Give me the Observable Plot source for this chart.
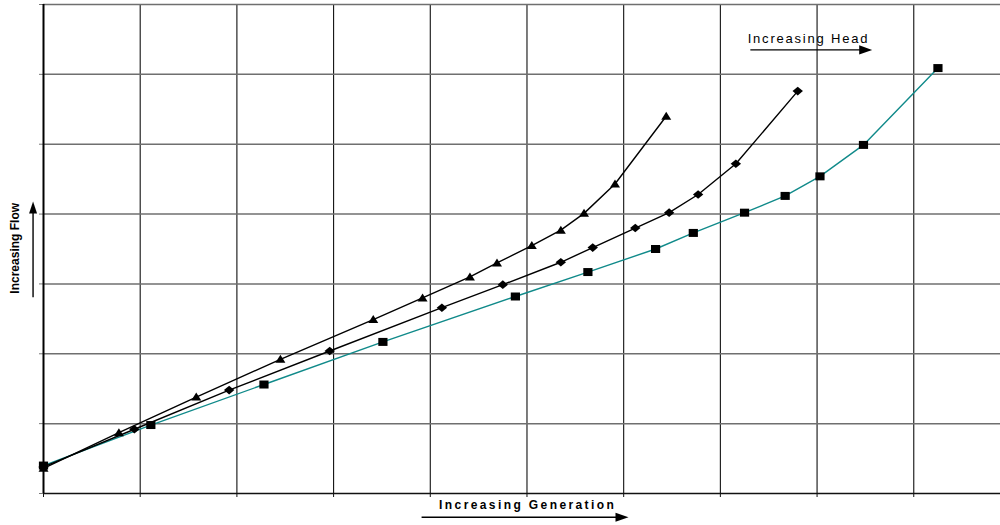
<!DOCTYPE html>
<html>
<head>
<meta charset="utf-8">
<script src="https://cdn.jsdelivr.net/npm/d3@7"></script>
<script src="https://cdn.jsdelivr.net/npm/@observablehq/plot@0.6"></script>
<style>
  html, body { margin: 0; padding: 0; background: #fff; }
  #chart svg { display: block; }
</style>
</head>
<body>
<div id="chart"></div>
<script>
// Three head curves: flow against generation (arbitrary units)
const lowHeadX  = [0, 0.78, 1.58, 2.45, 3.41, 3.92, 4.41, 4.69, 5.05, 5.35, 5.59, 5.91, 6.44];
const lowHeadY  = [0.36, 0.87, 1.38, 1.92, 2.49, 2.80, 3.10, 3.30, 3.55, 3.77, 4.01, 4.43, 5.40];
const midHeadX  = [0, 0.94, 1.92, 2.96, 4.12, 4.75, 5.35, 5.68, 6.12, 6.47, 6.77, 7.16, 7.80];
const midHeadY  = [0.38, 0.92, 1.48, 2.04, 2.66, 2.99, 3.31, 3.52, 3.80, 4.02, 4.28, 4.72, 5.76];
const highHeadX = [0, 1.11, 2.28, 3.51, 4.88, 5.63, 6.33, 6.72, 7.25, 7.67, 8.03, 8.48, 9.25];
const highHeadY = [0.40, 0.98, 1.56, 2.17, 2.82, 3.17, 3.50, 3.73, 4.02, 4.26, 4.54, 4.99, 6.09];

// Grid positions
const xTicks = [0, 1, 2, 3, 4, 5, 6, 7, 8, 9];
const yTicks = [0, 1, 2, 3, 4, 5, 6, 7];

// Annotation texts
const xLabel = "Increasing Generation";
const yLabel = "Increasing Flow";
const headLabel = "Increasing Head";

const rows = (xs, ys) => xs.map((x, i) => ({x, y: ys[i]}));
const lowHead = rows(lowHeadX, lowHeadY);
const midHead = rows(midHeadX, midHeadY);
const highHead = rows(highHeadX, highHeadY);

// Marker shapes
const triangleMark = {draw(c) { c.moveTo(0, -4.5); c.lineTo(5, 3.5); c.lineTo(-5, 3.5); c.closePath(); }};
const diamondMark  = {draw(c) { c.moveTo(0, -4.3); c.lineTo(5.2, 0); c.lineTo(0, 4.3); c.lineTo(-5.2, 0); c.closePath(); }};
const squareMark   = {draw(c) { c.rect(-4.6, -4, 9.2, 8); }};
// Arrowheads with the tip at the anchor point
const headRight = {draw(c) { c.moveTo(0, 0); c.lineTo(-13, -4.6); c.lineTo(-13, 4.6); c.closePath(); }};
const headUp    = {draw(c) { c.moveTo(0, 0); c.lineTo(4, 12); c.lineTo(-4, 12); c.closePath(); }};

// Arrow geometry in data units
const genArrow  = {x1: 3.91, x2: 6.05, y: -0.34};
const headArrow = {x1: 7.31, x2: 8.57, y: 6.35};
const flowArrow = {x: -0.108, y1: 2.81, y2: 4.18};

const font = "'Liberation Sans', Arial, Helvetica, sans-serif";

const chart = Plot.plot({
  width: 1000,
  height: 525,
  marginLeft: 43,
  marginRight: 0,
  marginTop: 4,
  marginBottom: 32,
  style: {fontFamily: font, background: "#fff", overflow: "visible"},
  x: {domain: [0, 9.897]},
  y: {domain: [0, 7]},
  marks: [
    Plot.gridX(xTicks.slice(1), {stroke: "#111", strokeOpacity: 1, strokeWidth: 1.1}),
    Plot.gridY(yTicks.slice(1), {stroke: "#6f6f6f", strokeOpacity: 1, strokeWidth: 1.5}),
    Plot.axisX({ticks: xTicks, tickSize: 4, tickFormat: () => "", label: null, stroke: "#111"}),
    Plot.axisY({ticks: yTicks, tickSize: 4, tickFormat: () => "", label: null, stroke: "#777"}),
    Plot.ruleY([0], {stroke: "#111", strokeWidth: 1.6}),
    Plot.ruleX([0], {stroke: "#000", strokeWidth: 2}),

    Plot.line(highHead, {x: "x", y: "y", stroke: "#108a8a", strokeWidth: 1.4}),
    Plot.line(midHead, {x: "x", y: "y", stroke: "#000", strokeWidth: 1.4}),
    Plot.line(lowHead, {x: "x", y: "y", stroke: "#000", strokeWidth: 1.4}),
    Plot.dot(highHead, {x: "x", y: "y", symbol: squareMark, r: 5, fill: "#000", stroke: "none"}),
    Plot.dot(midHead, {x: "x", y: "y", symbol: diamondMark, r: 5, fill: "#000", stroke: "none"}),
    Plot.dot(lowHead, {x: "x", y: "y", symbol: triangleMark, r: 5, fill: "#000", stroke: "none"}),

    // Axis captions with direction arrows
    Plot.text([xLabel], {x: 5.007, y: -0.17, text: d => d, fontSize: 12, fontWeight: "bold", fill: "#000"}),
    Plot.link([genArrow], {x1: "x1", x2: d => d.x2 - 0.1, y1: "y", y2: "y", stroke: "#000", strokeWidth: 1.4}),
    Plot.dot([genArrow], {x: "x2", y: "y", symbol: headRight, r: 5, fill: "#000", stroke: "none"}),

    Plot.text([yLabel], {x: -0.295, y: 3.51, text: d => d, rotate: -90, fontSize: 12, fontWeight: "bold", fill: "#000"}),
    Plot.link([flowArrow], {x1: "x", x2: "x", y1: "y1", y2: d => d.y2 - 0.1, stroke: "#000", strokeWidth: 1.4}),
    Plot.dot([flowArrow], {x: "x", y: "y2", symbol: headUp, r: 5, fill: "#000", stroke: "none"}),

    Plot.text([headLabel], {x: 7.911, y: 6.506, text: d => d, fontSize: 13, fill: "#000"}),
    Plot.link([headArrow], {x1: "x1", x2: d => d.x2 - 0.1, y1: "y", y2: "y", stroke: "#000", strokeWidth: 1.4}),
    Plot.dot([headArrow], {x: "x2", y: "y", symbol: headRight, r: 5, fill: "#000", stroke: "none"})
  ]
});

// Spaced-out lettering for the two horizontal captions
const spacing = new Map([[xLabel, "2.4px"], [headLabel, "1.8px"]]);
d3.select(chart).selectAll("text")
  .filter(function() { return spacing.has(this.textContent); })
  .attr("letter-spacing", function() { return spacing.get(this.textContent); });

document.getElementById("chart").append(chart);
</script>
</body>
</html>
